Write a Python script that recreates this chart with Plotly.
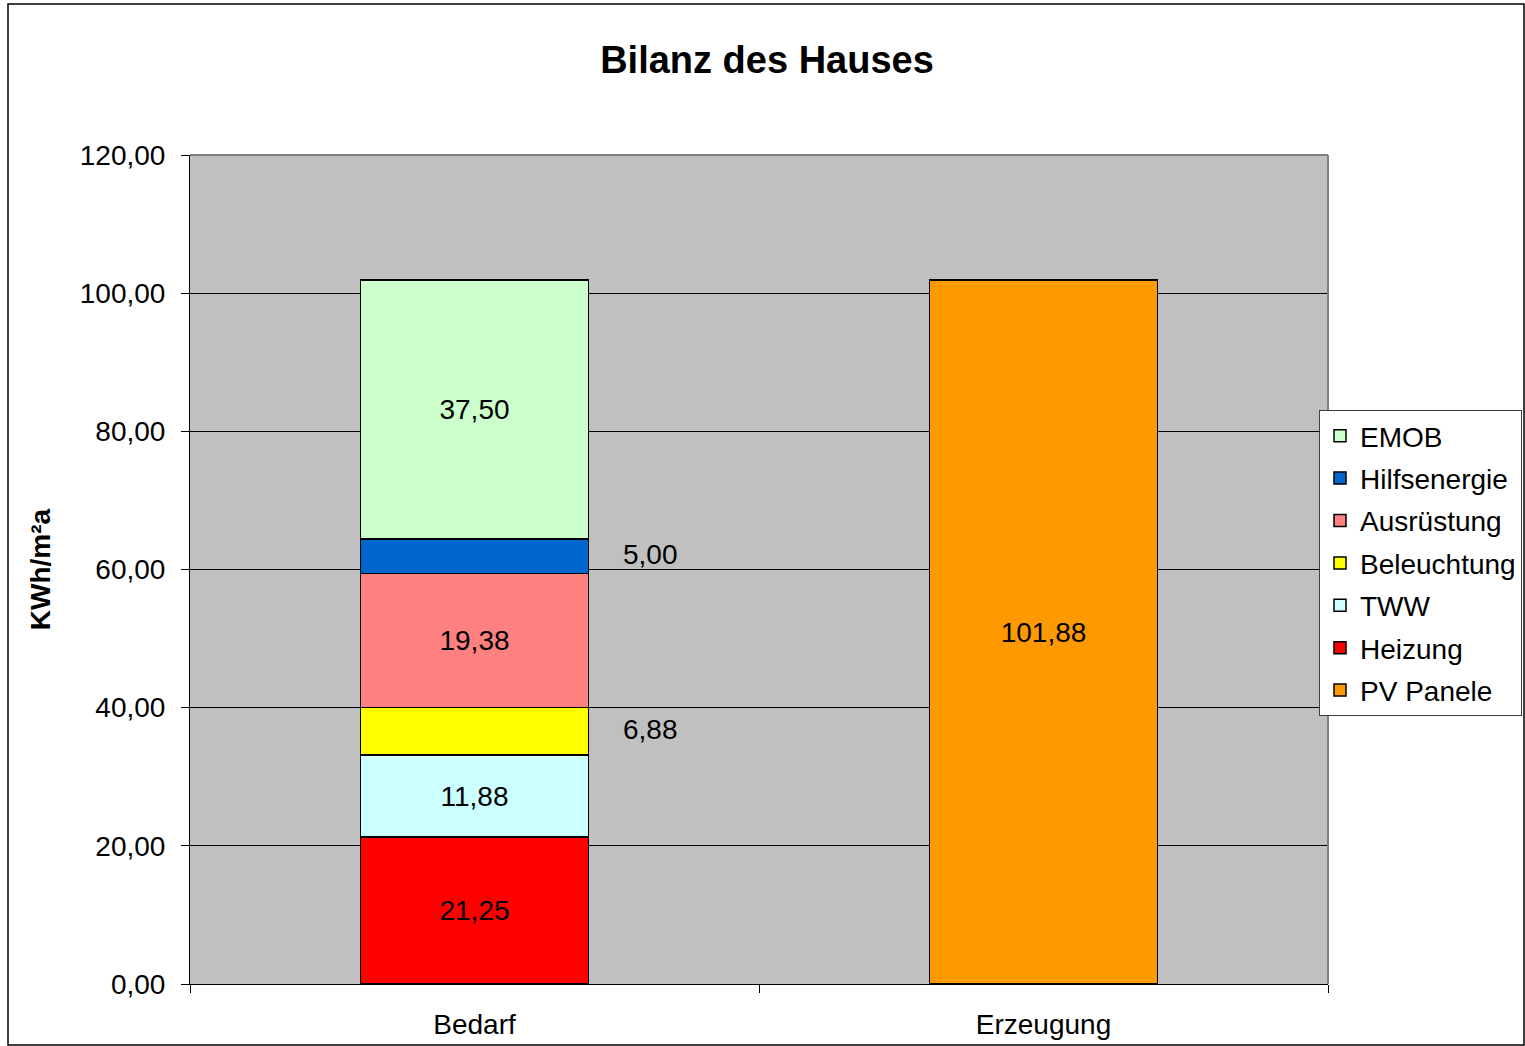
import plotly.graph_objects as go

categories = ["Bedarf", "Erzeugung"]
series_names = ["Heizung", "TWW", "Beleuchtung", "Ausrüstung", "Hilfsenergie", "EMOB"]
series_values = [21.25, 11.88, 6.88, 19.38, 5.00, 37.50]
series_colors = ["#FF0000", "#CCFFFF", "#FFFF00", "#FF8080", "#0066CC", "#CCFFCC"]
outside_labels = ["Beleuchtung", "Hilfsenergie"]
pv_name = "PV Panele"
pv_value = 101.88
pv_color = "#FF9900"
y_ticks = [0, 20, 40, 60, 80, 100, 120]

FONT = "Liberation Sans, Arial, sans-serif"
FS = 28

def fmt(v):
    return f"{v:.2f}".replace(".", ",")

fig = go.Figure()

n = len(series_names)
cum = 0
annotations = []
for i, (name, val, col) in enumerate(zip(series_names, series_values, series_colors)):
    inside = name not in outside_labels
    fig.add_trace(go.Bar(
        x=[categories[0]], y=[val], name=name, marker_color=col,
        marker_line=dict(color="black", width=1.5), width=0.4,
        text=[fmt(val)] if inside else None,
        textposition="inside" if inside else "none",
        insidetextanchor="middle", legendrank=n - i, legendgroup=name,
        textfont=dict(size=FS, color="black", family=FONT),
        constraintext="none",
    ))
    if not inside:
        annotations.append(dict(
            x=categories[0], y=cum + val / 2, xref="x", yref="y",
            text=fmt(val), showarrow=False, xshift=176, yshift=2,
            font=dict(size=FS, color="black", family=FONT),
        ))
    cum += val

fig.add_trace(go.Bar(
    x=[categories[1]], y=[pv_value], name=pv_name, marker_color=pv_color,
    marker_line=dict(color="black", width=1.5), width=0.4,
    text=[fmt(pv_value)], textposition="inside", insidetextanchor="middle",
    textfont=dict(size=FS, color="black", family=FONT), legendrank=n + 1,
    legendgroup=pv_name, constraintext="none",
))

W, H = 1525, 1046
L, R, T, B = 190, 1328, 155, 984
pw, ph = R - L, B - T

def px_x(p):
    return (p - L) / pw

def px_y(p):
    return (B - p) / ph

shapes = [
    dict(type="rect", xref="paper", yref="paper",
         x0=px_x(8), x1=px_x(1524), y0=px_y(1045), y1=px_y(4),
         line=dict(color="black", width=1.5), fillcolor="rgba(0,0,0,0)", layer="below"),
    dict(type="line", xref="paper", yref="paper", x0=0, x1=1, y0=1, y1=1,
         line=dict(color="#808080", width=2)),
    dict(type="line", xref="paper", yref="paper", x0=1, x1=1, y0=0, y1=1,
         line=dict(color="#808080", width=2)),
]

fig.update_layout(
    width=W, height=H,
    margin=dict(l=L, r=W - R, t=T, b=H - B, pad=0, autoexpand=False),
    barmode="stack",
    separators=",.",
    paper_bgcolor="white",
    plot_bgcolor="#C0C0C0",
    font=dict(family=FONT, size=FS, color="black"),
    title=dict(text="<b>Bilanz des Hauses</b>", x=767 / W, xanchor="center",
               y=1 - 60 / H, yanchor="middle",
               font=dict(size=38, family=FONT, color="black")),
    xaxis=dict(type="category", categoryorder="array", categoryarray=categories,
               tickson="boundaries", ticks="outside", ticklen=8, automargin=False,
               tickcolor="black", showline=True, linecolor="black", linewidth=1,
               showgrid=False, tickfont=dict(size=FS), ticklabelstandoff=15),
    yaxis=dict(range=[0, 120], tickvals=y_ticks, tickformat=".2f", automargin=False,
               ticks="outside", ticklen=8, tickcolor="black",
               showline=True, linecolor="black", linewidth=1,
               showgrid=True, gridcolor="black", gridwidth=1,
               tickfont=dict(size=FS), ticklabelstandoff=10,
               title=dict(text="<b>KWh/m²a</b>", font=dict(size=FS), standoff=20),
               zeroline=False),
    legend=dict(xref="container", yref="container",
                x=1319 / W, y=1 - 410 / H, xanchor="left", yanchor="top",
                bordercolor="#404040", borderwidth=1, bgcolor="white",
                traceorder="grouped", tracegroupgap=3,
                font=dict(size=FS, family=FONT)),
    showlegend=True,
    annotations=annotations,
    shapes=shapes,
)

fig.write_html("out.html", config={"displayModeBar": False},
               post_script="document.body.style.margin='0';document.body.style.overflow='hidden';")
